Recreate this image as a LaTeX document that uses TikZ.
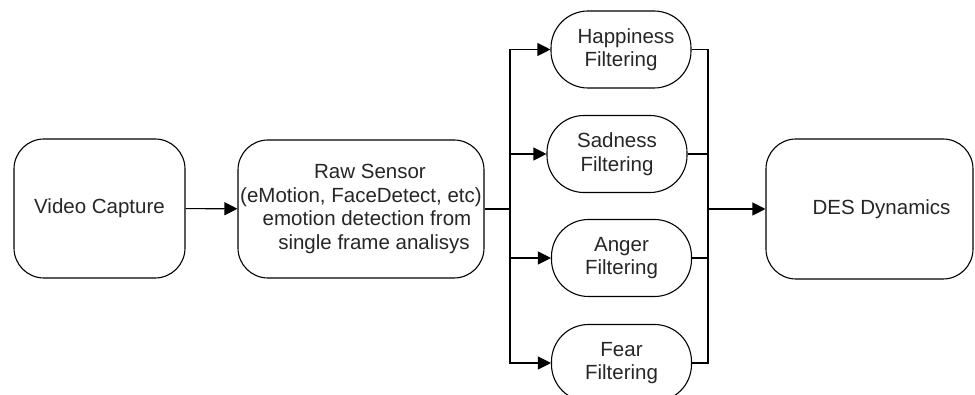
\documentclass[tikz,border=0pt]{standalone}
\usepackage{fontspec}
\setmainfont{Liberation Sans}
\usetikzlibrary{arrows.meta}
\begin{document}
\begin{tikzpicture}[x=1pt,y=-1pt,
  box/.style={draw, line width=1.1pt, rounded corners=30pt, inner sep=0pt, align=center,
    font=\fontsize{20.5}{23.5}\selectfont, text=black!85},
  filt/.style={box, minimum width=140pt, minimum height=77pt, rounded corners=37pt},
  conn/.style={line width=1.1pt},
  arr/.style={conn, -{Triangle[length=13pt,width=13pt]}}]
\clip (0,0) rectangle (975,395);
\useasboundingbox (0,0) rectangle (975,395);
\node[box, minimum width=171pt, minimum height=139pt] (video) at (99.5,208.5) {Video Capture};
\node[box, minimum width=246pt, minimum height=138pt] (raw) at (361,209)
  {\hspace{18pt}Raw Sensor\\(eMotion, FaceDetect, etc)\\\hspace{12pt}emotion detection from\\\hspace{26pt}single frame analisys};
\node[filt] (happy) at (621,49.5) {\hspace{10pt}Happiness\\Filtering};
\node[filt] (sad) at (617,154) {Sadness\\Filtering};
\node[filt] (anger) at (621.5,258) {Anger\\Filtering};
\node[filt] (fear) at (621.5,363) {Fear\\Filtering};
\node[box, minimum width=207pt, minimum height=140pt] (des) at (869.5,209) {\hspace{24pt}DES Dynamics};
\coordinate (bl) at (510,209);
\coordinate (br) at (708,209);
\draw[arr] (video) -- (raw);
\draw[conn] (raw.east) -- (bl);
\draw[arr] (bl) |- (happy.west);
\draw[arr] (bl) |- (sad.west);
\draw[arr] (bl) |- (anger.west);
\draw[arr] (bl) |- (fear.west);
\draw[conn] (happy.east) -| (br);
\draw[conn] (sad.east) -| (br);
\draw[conn] (anger.east) -| (br);
\draw[conn] (fear.east) -| (br);
\draw[arr] (br) -- (des.west);
\end{tikzpicture}
\end{document}
